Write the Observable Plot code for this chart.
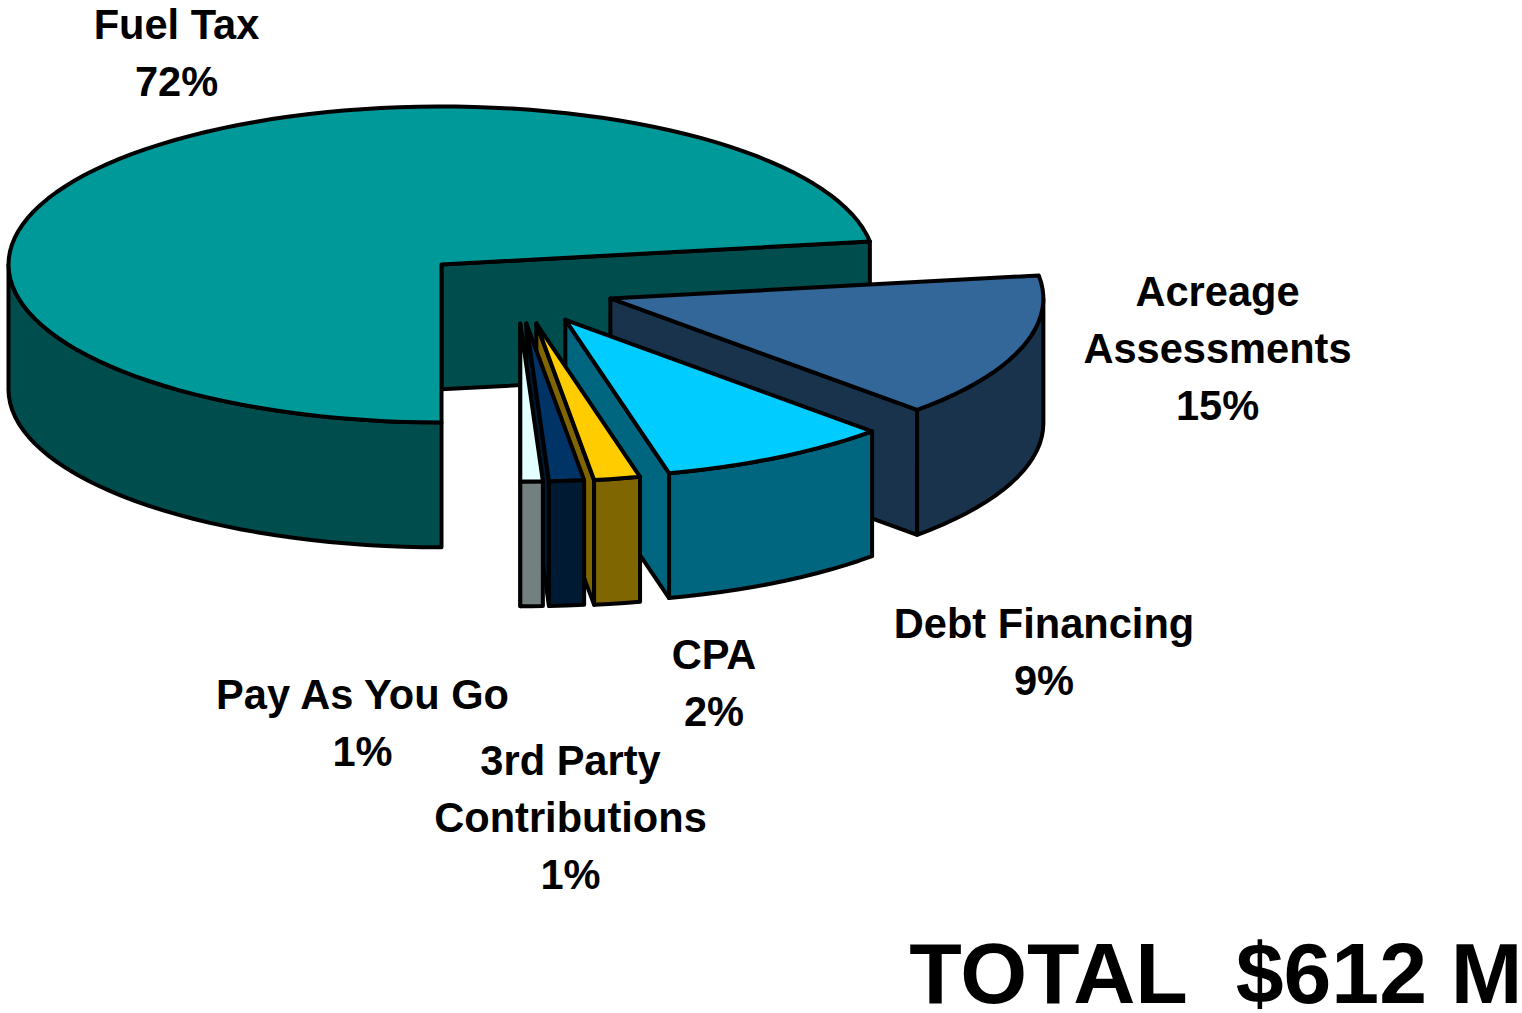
<!DOCTYPE html>
<html>
<head>
<meta charset="utf-8">
<script src="https://cdn.jsdelivr.net/npm/d3@7"></script>
<script src="https://cdn.jsdelivr.net/npm/@observablehq/plot@0.6"></script>
<style>
html,body{margin:0;padding:0;background:#fff}
svg{display:block}
</style>
</head>
<body>
<div id="chart"></div>
<script>
// Data
const names = ["Fuel Tax", "Acreage\nAssessments", "Debt Financing", "CPA", "3rd Party\nContributions", "Pay As You Go"];
const labelledPercents = [72, 15, 9, 2, 1, 1];
const sliceShares = [72.67, 14.8, 8.68, 1.72, 1.3, 0.83];
const totalLabel = "TOTAL\u00a0\u00a0$612 M";

// Palette
const topColors = ["#009999", "#336699", "#00CCFF", "#FFCC00", "#003366", "#E3FFFF"];
const sideColors = ["#004D4D", "#1A334D", "#006680", "#806600", "#001A33", "#738080"];

// Pie layout, in pie radii (x and y radius of the ellipse are handled by the scales)
const startAngle = 180;
const depth = 0.79;
const explodeX = [0, 0.39, 0.286, 0.219, 0.196, 0.182];
const explodeY = [0, 0.215, 0.35, 0.373, 0.373, 0.373];

// Pixel frame of the pie
const W = 1522, H = 1013, cx = 441, cy = 264, rx = 433, ry = 158;
const toX = px => (px - cx) / rx;
const toY = py => (py - cy) / ry;

// Label block centres
const labelX = [176, 1217, 1043.5, 713.5, 570, 362];
const labelY = [48.5, 344.5, 647.5, 678.5, 813.5, 718.5];

const rad = a => a * Math.PI / 180;
const total = d3.sum(sliceShares);
let running = startAngle;
const slices = names.map((name, i) => {
  const a0 = running, a1 = running + sliceShares[i] / total * 360;
  running = a1;
  return {i, a0, a1, ox: explodeX[i], oy: explodeY[i]};
});

function arc(s, from, to, dz = 0) {
  const n = Math.max(2, Math.ceil((to - from) / 2.5));
  return d3.range(n + 1).map(k => {
    const a = from + (to - from) * k / n;
    return {x: s.ox + Math.sin(rad(a)), y: s.oy - Math.cos(rad(a)) + dz};
  });
}

function topFace(s) {
  const apex = {x: s.ox, y: s.oy};
  return [apex, ...arc(s, s.a0, s.a1), apex];
}

function cutFace(s) {
  const p = arc(s, s.a1, s.a1, 0)[0];
  return [
    {x: s.ox, y: s.oy}, p, {x: p.x, y: p.y + depth},
    {x: s.ox, y: s.oy + depth}, {x: s.ox, y: s.oy}
  ];
}

function wallFace(s) {
  // visible part of the rim: the front half of the ellipse
  const ranges = [[90, 270], [450, 630]];
  for (const [lo, hi] of ranges) {
    const from = Math.max(s.a0, lo), to = Math.min(s.a1, hi);
    if (to > from) {
      const upper = arc(s, from, to);
      const lower = arc(s, from, to, depth).reverse();
      return [...upper, ...lower, upper[0]];
    }
  }
  return null;
}

const poly = (pts, fill) => Plot.line(pts, {
  x: "x", y: "y", fill, stroke: "#000", strokeWidth: 4,
  strokeLinejoin: "round", strokeLinecap: "round", curve: "linear"
});

const marks = [];
for (const s of slices) {
  marks.push(poly(cutFace(s), sideColors[s.i]));
  const wall = wallFace(s);
  if (wall) marks.push(poly(wall, sideColors[s.i]));
  marks.push(poly(topFace(s), topColors[s.i]));
}

const labels = names.map((n, i) => ({
  text: `${n}\n${labelledPercents[i]}%`,
  x: toX(labelX[i]),
  y: toY(labelY[i])
}));

marks.push(Plot.text(labels, {
  x: "x", y: "y", text: "text",
  fontFamily: "Liberation Sans, Arial, sans-serif",
  fontWeight: 700, fontSize: 41.6, lineHeight: 1.37,
  fill: "#000", textAnchor: "middle"
}));

marks.push(Plot.text([totalLabel], {
  x: () => toX(1522), y: () => toY(975), text: d => d,
  fontFamily: "Liberation Sans, Arial, sans-serif",
  fontWeight: 700, fontSize: 86, fill: "#000", textAnchor: "end"
}));

const chart = Plot.plot({
  width: W, height: H,
  margin: 0,
  style: {background: "#fff", overflow: "visible"},
  x: {domain: [toX(0), toX(W)], range: [0, W], axis: null},
  y: {domain: [toY(0), toY(H)], range: [0, H], axis: null},
  marks
});
document.getElementById("chart").appendChild(chart);
</script>
</body>
</html>
